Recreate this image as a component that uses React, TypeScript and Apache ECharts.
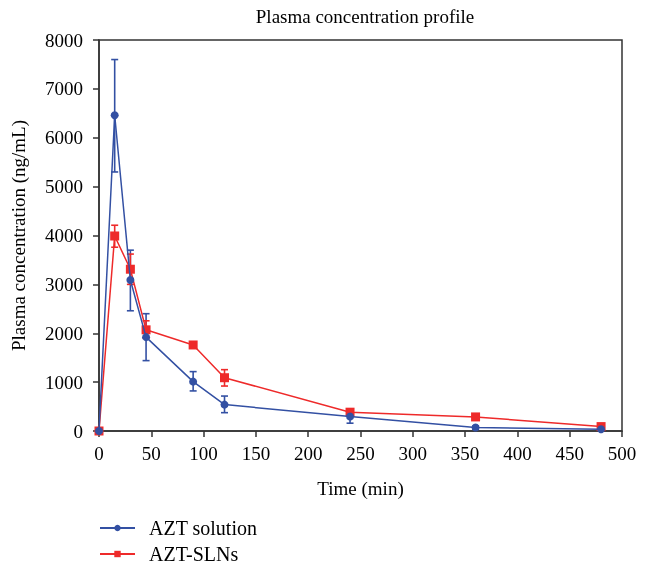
import React, { useEffect, useRef } from "react";
import * as echarts from "echarts";

const times = [0, 15, 30, 45, 90, 120, 240, 360, 480];
const solutionMean = [0, 6460, 3090, 1920, 1010, 540, 295, 70, 35];
const solutionLow = [0, 5300, 2460, 1440, 820, 375, 160, 40, 20];
const solutionHigh = [0, 7600, 3700, 2400, 1215, 715, 420, 100, 50];
const slnMean = [0, 3990, 3310, 2070, 1760, 1090, 385, 288, 90];
const slnLow = [0, 3760, 3000, 1900, 1710, 920, 320, 230, 60];
const slnHigh = [0, 4210, 3620, 2255, 1810, 1255, 450, 345, 125];
const yTicks = [0, 1000, 2000, 3000, 4000, 5000, 6000, 7000, 8000];
const xTicks = [0, 50, 100, 150, 200, 250, 300, 350, 400, 450, 500];

const BLUE = "#3350a3";
const RED = "#ee2a2a";
const FONT = "'Liberation Serif', 'DejaVu Serif', serif";

function errorSeries(low: number[], high: number[], color: string) {
  return {
    type: "custom",
    silent: true,
    z: 1,
    data: times.map((t, i) => [t, low[i], high[i]]),
    renderItem: (params: any, api: any) => {
      const x = api.value(0);
      const lo = api.coord([x, api.value(1)]);
      const hi = api.coord([x, api.value(2)]);
      const w = 3.5;
      const style = { stroke: color, lineWidth: 1.6 };
      return {
        type: "group",
        children: [
          { type: "line", shape: { x1: lo[0], y1: lo[1], x2: hi[0], y2: hi[1] }, style },
          { type: "line", shape: { x1: lo[0] - w, y1: lo[1], x2: lo[0] + w, y2: lo[1] }, style },
          { type: "line", shape: { x1: hi[0] - w, y1: hi[1], x2: hi[0] + w, y2: hi[1] }, style },
        ],
      };
    },
  };
}

const legendText = { fontFamily: FONT, fontSize: 20, color: "#000", padding: [0, 0, 0, 9] };

export default function App() {
  const ref = useRef<HTMLDivElement>(null);
  useEffect(() => {
    const chart = echarts.init(ref.current!, null, { renderer: "svg" });
    chart.setOption({
      animation: false,
      textStyle: { fontFamily: FONT },
      title: {
        text: "Plasma concentration profile",
        left: 360,
        textAlign: "center",
        top: 2,
        textStyle: { fontFamily: FONT, fontSize: 19, fontWeight: "normal", color: "#000" },
      },
      grid: {
        left: 99,
        right: 26,
        top: 40,
        bottom: 136,
        containLabel: false,
        outerBoundsMode: "none",
        show: true,
        borderColor: "#333",
        borderWidth: 1.5,
      },
      legend: [
        {
          data: ["AZT solution"],
          left: 99,
          top: 518,
          padding: 0,
          itemWidth: 35,
          itemHeight: 8,
          textStyle: legendText,
        },
        {
          data: ["AZT-SLNs"],
          left: 99,
          top: 544,
          padding: 0,
          itemWidth: 35,
          itemHeight: 8,
          textStyle: legendText,
        },
      ],
      xAxis: {
        type: "value",
        min: 0,
        max: 500,
        interval: 50,
        name: "Time (min)",
        nameLocation: "middle",
        nameGap: 48,
        nameTextStyle: { fontFamily: FONT, fontSize: 19, color: "#000" },
        axisLine: { lineStyle: { color: "#333", width: 1.5 } },
        axisTick: { inside: false, length: 6, lineStyle: { color: "#333", width: 1.5 } },
        axisLabel: {
          fontFamily: FONT,
          fontSize: 19,
          color: "#000",
          margin: 13,
          formatter: (v: number) => String(v),
        },
        splitLine: { show: false },
      },
      yAxis: {
        type: "value",
        min: 0,
        max: 8000,
        interval: 1000,
        name: "Plasma concentration (ng/mL)",
        nameLocation: "middle",
        nameGap: 71,
        nameTextStyle: { fontFamily: FONT, fontSize: 19, color: "#000" },
        axisLine: { show: true, lineStyle: { color: "#333", width: 1.5 } },
        axisTick: { show: true, inside: false, length: 6, lineStyle: { color: "#333", width: 1.5 } },
        axisLabel: {
          fontFamily: FONT,
          fontSize: 19,
          color: "#000",
          margin: 16,
          formatter: (v: number) => String(v),
        },
        splitLine: { show: false },
      },
      series: [
        errorSeries(solutionLow, solutionHigh, BLUE),
        errorSeries(slnLow, slnHigh, RED),
        {
          name: "AZT solution",
          type: "line",
          z: 3,
          data: times.map((t, i) => [t, solutionMean[i]]),
          symbol: "circle",
          symbolSize: 8,
          lineStyle: { color: BLUE, width: 1.5 },
          itemStyle: { color: BLUE },
        },
        {
          name: "AZT-SLNs",
          type: "line",
          z: 2,
          data: times.map((t, i) => [t, slnMean[i]]),
          symbol: "rect",
          symbolSize: 9,
          lineStyle: { color: RED, width: 1.5 },
          itemStyle: { color: RED },
        },
      ],
    });
    return () => chart.dispose();
  }, []);
  return (
    <div
      ref={ref}
      style={{ position: "fixed", left: 0, top: 0, width: 648, height: 567 }}
    />
  );
}
